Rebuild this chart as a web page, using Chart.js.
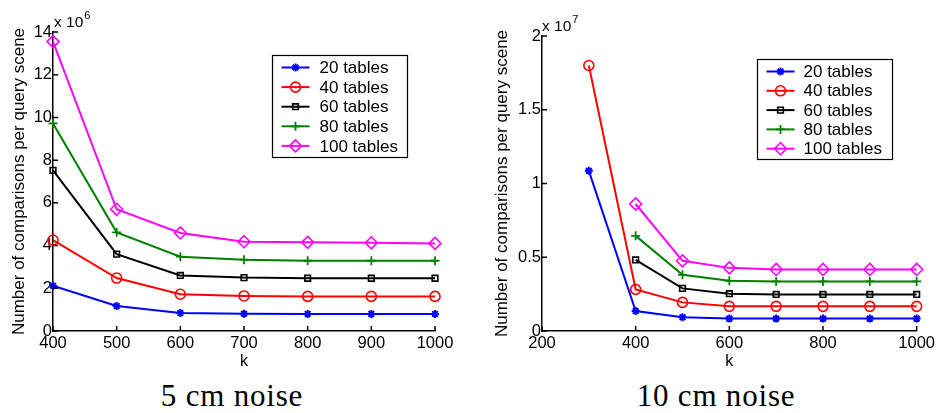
<!DOCTYPE html>
<html>
<head>
<meta charset="utf-8">
<script src="https://cdn.jsdelivr.net/npm/chart.js@4.4.1/dist/chart.umd.min.js"></script>
<style>
  body { margin: 0; background: #fff; width: 938px; height: 413px; position: relative; overflow: hidden; }
  canvas { position: absolute; top: 0; }
  .caption { position: absolute; top: 378px; font-family: "Liberation Serif", "DejaVu Serif", serif; font-size: 31px; letter-spacing: 0.8px; color: #000; transform: translateX(-50%); white-space: nowrap; }
</style>
</head>
<body>
<canvas id="left-chart" width="469" height="375" style="left:0"></canvas>
<canvas id="right-chart" width="469" height="375" style="left:469px"></canvas>
<div class="caption" style="left:232px">5 cm noise</div>
<div class="caption" style="left:716px">10 cm noise</div>
<script>
const seriesLabels = ['20 tables', '40 tables', '60 tables', '80 tables', '100 tables'];
const seriesColors = ['#0000ff', '#ff0000', '#000000', '#008000', '#ff00ff'];
const seriesMarkers = ['star', 'circle', 'rect', 'cross', 'rectRot'];
const markerSizes = [4, 5, 4, 4.5, 6];
const markerWidths = [2, 1.6, 1.6, 1.8, 1.6];

// 5 cm noise (x 10^6)
const kLeft = [400, 500, 600, 700, 800, 900, 1000];
const left20 = [2.12, 1.17, 0.84, 0.81, 0.80, 0.80, 0.80];
const left40 = [4.26, 2.48, 1.72, 1.64, 1.62, 1.62, 1.62];
const left60 = [7.52, 3.60, 2.60, 2.50, 2.47, 2.47, 2.47];
const left80 = [9.72, 4.62, 3.48, 3.34, 3.29, 3.29, 3.29];
const left100 = [13.55, 5.70, 4.59, 4.18, 4.15, 4.13, 4.10];

// 10 cm noise (x 10^7)
const kRight = [300, 400, 500, 600, 700, 800, 900, 1000];
const right20 = [1.086, 0.135, 0.093, 0.084, 0.084, 0.084, 0.084, 0.084];
const right40 = [1.80, 0.282, 0.194, 0.167, 0.167, 0.167, 0.167, 0.167];
const right60 = [null, 0.482, 0.289, 0.253, 0.248, 0.248, 0.248, 0.248];
const right80 = [null, 0.645, 0.381, 0.340, 0.336, 0.336, 0.336, 0.336];
const right100 = [null, 0.861, 0.476, 0.428, 0.417, 0.417, 0.417, 0.417];

const FONT = '"Liberation Sans", Arial, sans-serif';

const makeDatasets = (ks, series) => series.map((vals, i) => ({
    label: seriesLabels[i],
    data: ks.map((k, j) => ({ x: k, y: vals[j] })),
    borderColor: seriesColors[i],
    backgroundColor: 'rgba(0,0,0,0)',
    borderWidth: 2,
    pointStyle: seriesMarkers[i],
    pointRadius: markerSizes[i],
    pointBorderWidth: markerWidths[i],
    pointBackgroundColor: 'rgba(0,0,0,0)',
    pointBorderColor: seriesColors[i],
    tension: 0,
    clip: false
}));

// inward tick marks, matlab style
const inwardTicks = {
    id: 'inwardTicks',
    afterDraw(chart) {
        const ctx = chart.ctx, area = chart.chartArea;
        ctx.save();
        ctx.strokeStyle = '#000';
        ctx.lineWidth = 1.5;
        ctx.beginPath();
        chart.scales.x.ticks.forEach(t => {
            const px = chart.scales.x.getPixelForValue(t.value);
            ctx.moveTo(px, area.bottom);
            ctx.lineTo(px, area.bottom - 5);
        });
        chart.scales.y.ticks.forEach(t => {
            const py = chart.scales.y.getPixelForValue(t.value);
            ctx.moveTo(area.left, py);
            ctx.lineTo(area.left + 5, py);
        });
        ctx.stroke();
        ctx.restore();
    }
};

// boxed legend with line + marker samples
const boxLegend = {
    id: 'boxLegend',
    afterDraw(chart, args, opts) {
        const ctx = chart.ctx;
        const { x, y, w, h, rowH, lineLen, textGap } = opts;
        ctx.save();
        ctx.fillStyle = '#fff';
        ctx.fillRect(x, y, w, h);
        ctx.strokeStyle = '#000';
        ctx.lineWidth = 1.2;
        ctx.strokeRect(x + 0.5, y + 0.5, w, h);
        ctx.font = '17px ' + FONT;
        ctx.textBaseline = 'middle';
        chart.data.datasets.forEach((ds, i) => {
            const ry = y + 12.5 + i * rowH;
            const lx = x + 9.5;
            ctx.strokeStyle = ds.borderColor;
            ctx.lineWidth = 2;
            ctx.beginPath();
            ctx.moveTo(lx, ry);
            ctx.lineTo(lx + lineLen, ry);
            ctx.stroke();
            ctx.fillStyle = 'rgba(0,0,0,0)';
            ctx.lineWidth = ds.pointBorderWidth;
            Chart.helpers.drawPoint(ctx, { pointStyle: ds.pointStyle, radius: ds.pointRadius, borderWidth: ds.pointBorderWidth, rotation: 0 }, lx + lineLen / 2, ry);
            ctx.fillStyle = '#000';
            ctx.fillText(ds.label, lx + lineLen + textGap, ry + 1);
        });
        ctx.restore();
    }
};

// "x 10^n" multiplier label
const multiplier = {
    id: 'multiplier',
    afterDraw(chart, args, opts) {
        const ctx = chart.ctx;
        ctx.save();
        ctx.fillStyle = '#000';
        ctx.textBaseline = 'alphabetic';
        ctx.font = '15.5px ' + FONT;
        ctx.fillText('x 10', opts.x, opts.y);
        const w = ctx.measureText('x 10').width;
        ctx.font = '11px ' + FONT;
        ctx.fillText(opts.exp, opts.x + w + 1, opts.y - 8);
        ctx.restore();
    }
};

const chartConfig = (datasets, xr, yr, yw, pad, titlePad, legend, mult) => ({
    type: 'line',
    data: { datasets: datasets },
    options: {
        responsive: false,
        animation: false,
        layout: { padding: pad },
        scales: {
            x: {
                type: 'linear',
                min: xr[0], max: xr[1],
                grid: { display: false, drawTicks: false },
                border: { display: true, color: '#000', width: 1.5 },
                ticks: { stepSize: xr[2], color: '#000', font: { family: FONT, size: 16.5 }, padding: 3, maxRotation: 0, autoSkip: false, callback: v => String(v) },
                title: { display: true, text: 'k', color: '#000', font: { family: FONT, size: 16 }, padding: { top: 0, bottom: 4 } },
                afterFit: s => { s.height = 44; }
            },
            y: {
                min: yr[0], max: yr[1],
                grid: { display: false, drawTicks: false },
                border: { display: true, color: '#000', width: 1.5 },
                ticks: { stepSize: yr[2], color: '#000', font: { family: FONT, size: 16.5 }, padding: 1, callback: v => String(v) },
                title: { display: true, text: 'Number of comparisons per query scene', color: '#000', font: { family: FONT, size: 17 }, padding: { top: titlePad, bottom: 0 } },
                afterFit: s => { s.width = yw; }
            }
        },
        plugins: {
            legend: { display: false },
            tooltip: { enabled: false },
            boxLegend: legend,
            multiplier: mult
        }
    },
    plugins: [inwardTicks, boxLegend, multiplier]
});

new Chart(document.getElementById('left-chart'), chartConfig(
    makeDatasets(kLeft, [left20, left40, left60, left80, left100]),
    [400, 1000, 100], [0, 14, 2], 53,
    { left: 0, right: 34, top: 32, bottom: 0 }, 9,
    { x: 272, y: 55, w: 135, h: 102, rowH: 19.6, lineLen: 28, textGap: 10 },
    { x: 54, y: 27, exp: '6' }
));

new Chart(document.getElementById('right-chart'), chartConfig(
    makeDatasets(kRight, [right20, right40, right60, right80, right100]),
    [200, 1000, 200], [0, 2, 0.5], 73,
    { left: 0, right: 19, top: 36, bottom: 0 }, 23,
    { x: 288, y: 59, w: 135, h: 100, rowH: 19.3, lineLen: 28, textGap: 9 },
    { x: 73, y: 31, exp: '7' }
));
</script>
</body>
</html>
